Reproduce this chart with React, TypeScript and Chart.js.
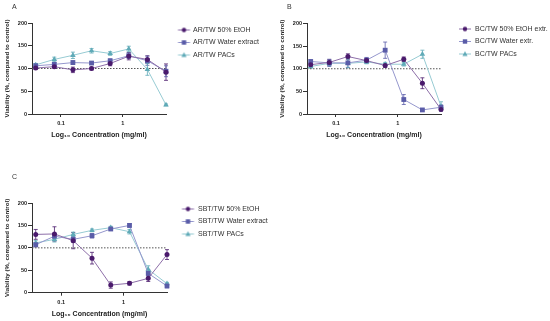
import React, { useEffect, useRef } from "react";
import { Chart, registerables } from "chart.js";
Chart.register(...registerables);

const FONT = '"Liberation Sans", Arial, Helvetica, sans-serif';

// ---------- shared axes ----------
const concentrations = [0.039, 0.078, 0.156, 0.3125, 0.625, 1.25, 2.5, 5];
const xAxisMin = 0.034;
const xAxisMax = 5;
const xTickValues = [0.1, 1];
const xTickLabels = ["0.1", "1"];
const yAxisMin = 0;
const yAxisMax = 200;
const yTickStep = 50;
const controlLevel = 100;
const xAxisTitle = "Log\u2081\u2080 Concentration (mg/ml)";
const yAxisTitle = "Viability (%, compared to control)";

// ---------- panel A ----------
const arNames = ["AR/TW 50% EtOH", "AR/TW Water extract", "AR/TW PACs"];
const arEtoh = [101, 104, 97, 100, 111, 127, 120, 92];
const arEtohErr = [3, 3, 6, 3, 5, 8, 8, 18];
const arWater = [106, 109, 113, 112, 117, 128, 117, 94];
const arWaterErr = [4, 4, 4, 3, 4, 6, 10, 12];
const arPacs = [108, 120, 129, 139, 133, 143, 98, 20];
const arPacsErr = [3, 5, 7, 5, 4, 6, 13, 2];

// ---------- panel B ----------
const bcNames = ["BC/TW 50% EtOH extr.", "BC/TW Water extr.", "BC/TW PACs"];
const bcEtoh = [109, 114, 127, 118, 107, 121, 68, 10];
const bcEtohErr = [5, 6, 6, 5, 4, 5, 12, 3];
const bcWater = [116, 113, 113, 119, 141, 32, 9, 15];
const bcWaterErr = [4, 8, 10, 6, 18, 11, 2, 5];
const bcPacs = [105, 112, 112, 115, 110, 110, 132, 17];
const bcPacsErr = [4, 5, 10, 4, 4, 4, 9, 10];

// ---------- panel C ----------
const sbtNames = ["SBT/TW 50% EtOH", "SBT/TW Water extract", "SBT/TW PACs"];
const sbtEtoh = [130, 131, 116, 77, 17, 21, 32, 85];
const sbtEtohErr = [11, 16, 18, 13, 7, 4, 7, 11];
const sbtWater = [107, 126, 119, 127, 142, 150, 43, 15];
const sbtWaterErr = [5, 5, 6, 5, 3, 4, 8, 4];
const sbtPacs = [111, 119, 130, 139, 145, 136, 52, 20];
const sbtPacsErr = [5, 6, 5, 3, 3, 5, 8, 3];

// ---------- styles ----------
const markerColors = ["#4a1a6c", "#5a5ca8", "#5faab7"];
const lineColors = ["#8d6ea8", "#9597cd", "#97cbd3"];
const pointStyles = ["circle", "rect", "triangle"];
const pointRadii = [2.5, 3.4, 3.2];
const LEGEND_FONT_SIZE = 7;
const LEGEND_PAD = 5.5;

const panels = [
  {
    letter: "A", names: arNames,
    values: [arEtoh, arWater, arPacs], errors: [arEtohErr, arWaterErr, arPacsErr],
    left: 0, top: 0, width: 275, height: 160,
    padTop: 21, padBottom: 20, chartRight: 166,
    titlePadTop: -18.2, titlePadBottom: 11.8,
    legendW: 18, legendD: 3.5,
  },
  {
    letter: "B", names: bcNames,
    values: [bcEtoh, bcWater, bcPacs], errors: [bcEtohErr, bcWaterErr, bcPacsErr],
    left: 275, top: 0, width: 275, height: 160,
    padTop: 20, padBottom: 20, chartRight: 166,
    titlePadTop: -17.2, titlePadBottom: 12.3,
    legendW: 25, legendD: 6,
  },
  {
    letter: "C", names: sbtNames,
    values: [sbtEtoh, sbtWater, sbtPacs], errors: [sbtEtohErr, sbtWaterErr, sbtPacsErr],
    left: 0, top: 160, width: 275, height: 161,
    padTop: 40, padBottom: 2.3, chartRight: 167,
    titlePadTop: -27.2, titlePadBottom: 21.8,
    legendW: 22, legendD: 4.5,
  },
];

function makeGlyph(idx: number, d: number) {
  const c = document.createElement("canvas");
  const w = 40, h = 9;
  c.width = w; c.height = h;
  const g = c.getContext("2d")!;
  const cx = w / 2 + d, cy = h / 2;
  g.strokeStyle = lineColors[idx];
  g.lineWidth = 1;
  g.beginPath(); g.moveTo(cx - 6, cy); g.lineTo(cx + 6, cy); g.stroke();
  g.fillStyle = markerColors[idx];
  g.beginPath();
  if (pointStyles[idx] === "circle") {
    g.arc(cx, cy, 2.2, 0, Math.PI * 2);
  } else if (pointStyles[idx] === "rect") {
    g.rect(cx - 2.2, cy - 2.2, 4.4, 4.4);
  } else {
    g.moveTo(cx, cy - 2.8); g.lineTo(cx + 2.6, cy + 2); g.lineTo(cx - 2.6, cy + 2); g.closePath();
  }
  g.fill();
  return c;
}

function measureMax(names: string[]) {
  const c = document.createElement("canvas");
  const g = c.getContext("2d")!;
  g.font = `${LEGEND_FONT_SIZE}px ${FONT}`;
  return Math.max(...names.map((n) => g.measureText(n).width));
}

const errorBarPlugin = {
  id: "errorBars",
  beforeDatasetsDraw(chart: any) {
    const ctx = chart.ctx;
    const yScale = chart.scales.y;
    chart.data.datasets.forEach((ds: any, di: number) => {
      if (!ds.errorValues) return;
      const meta = chart.getDatasetMeta(di);
      ctx.save();
      ctx.strokeStyle = ds.errorColor;
      ctx.lineWidth = 0.8;
      meta.data.forEach((pt: any, i: number) => {
        const v = ds.data[i].y;
        const e = ds.errorValues[i];
        const x = pt.x;
        const y1 = yScale.getPixelForValue(v + e);
        const y2 = yScale.getPixelForValue(v - e);
        ctx.beginPath();
        ctx.moveTo(x, y1); ctx.lineTo(x, y2);
        ctx.moveTo(x - 2, y1); ctx.lineTo(x + 2, y1);
        ctx.moveTo(x - 2, y2); ctx.lineTo(x + 2, y2);
        ctx.stroke();
      });
      ctx.restore();
    });
  },
};

function Panel({ cfg }: { cfg: any }) {
  const ref = useRef<HTMLCanvasElement>(null);
  useEffect(() => {
    const glyphs = [0, 1, 2].map((i) => makeGlyph(i, cfg.legendD));
    const content = LEGEND_PAD + cfg.legendW + LEGEND_FONT_SIZE / 2 + measureMax(cfg.names);
    const legendWidth = Math.ceil(content) + 2;
    const padRight = Math.max(0, cfg.width - cfg.chartRight - legendWidth);
    const seriesSets = cfg.values.map((vals: number[], i: number) => ({
      label: cfg.names[i],
      data: concentrations.map((x, j) => ({ x, y: vals[j] })),
      errorValues: cfg.errors[i],
      errorColor: markerColors[i],
      borderColor: lineColors[i],
      borderWidth: 1,
      backgroundColor: markerColors[i],
      pointBackgroundColor: markerColors[i],
      pointBorderColor: markerColors[i],
      pointBorderWidth: 0,
      pointStyle: pointStyles[i],
      pointRadius: pointRadii[i],
      tension: 0,
      clip: false,
      order: 0,
    }));
    const refSet = {
      label: "control",
      data: [{ x: xAxisMin, y: controlLevel }, { x: xAxisMax, y: controlLevel }],
      borderColor: "#555",
      borderWidth: 1,
      borderDash: [1.5, 1.5],
      pointRadius: 0,
      clip: false,
      order: 1,
    };
    const chart = new Chart(ref.current!, {
      type: "line",
      data: { datasets: [...seriesSets, refSet] },
      plugins: [errorBarPlugin],
      options: {
        animation: false,
        responsive: false,
        devicePixelRatio: 1,
        layout: {
          padding: { left: 12, top: cfg.padTop, right: padRight, bottom: cfg.padBottom },
        },
        plugins: {
          tooltip: { enabled: false },
          title: {
            display: true,
            text: cfg.letter,
            align: "start",
            color: "#333",
            font: { family: FONT, size: 7, weight: "normal" },
            padding: { top: cfg.titlePadTop, bottom: cfg.titlePadBottom },
          },
          legend: {
            display: true,
            position: "right",
            align: "start",
            fullSize: true,
            maxWidth: legendWidth,
            labels: {
              usePointStyle: true,
              pointStyleWidth: cfg.legendW,
              padding: LEGEND_PAD,
              color: "#333",
              font: { family: FONT, size: LEGEND_FONT_SIZE },
              generateLabels: () =>
                cfg.names.map((n: string, i: number) => ({
                  text: n,
                  pointStyle: glyphs[i],
                  fillStyle: markerColors[i],
                  strokeStyle: markerColors[i],
                  lineWidth: 0,
                  hidden: false,
                  datasetIndex: i,
                  fontColor: "#333",
                })),
            },
          },
        },
        scales: {
          x: {
            type: "logarithmic",
            min: xAxisMin,
            max: xAxisMax,
            bounds: "data",
            afterBuildTicks: (axis: any) => {
              axis.ticks = xTickValues.map((v) => ({ value: v }));
            },
            afterFit: (axis: any) => {
              axis.height = 26;
            },
            ticks: {
              autoSkip: false,
              maxRotation: 0,
              padding: 3,
              color: "#222",
              font: { family: FONT, size: 5.5, weight: "bold" },
              callback: (value: any) => {
                const k = xTickValues.indexOf(Number(value));
                return k >= 0 ? xTickLabels[k] : "";
              },
            },
            grid: { display: true, drawOnChartArea: false, drawTicks: true, tickLength: 3, tickColor: "#333", tickWidth: 1 },
            border: { display: true, color: "#333", width: 1 },
            title: {
              display: true,
              text: xAxisTitle,
              color: "#222",
              font: { family: FONT, size: 7, weight: "bold" },
              padding: { top: 0, bottom: 0.8 },
            },
          },
          y: {
            type: "linear",
            min: yAxisMin,
            max: yAxisMax,
            afterFit: (axis: any) => {
              axis.width = 20;
            },
            ticks: {
              stepSize: yTickStep,
              padding: 1,
              color: "#222",
              font: { family: FONT, size: 5.5, weight: "bold" },
            },
            grid: { display: true, drawOnChartArea: false, drawTicks: true, tickLength: 4, tickColor: "#333", tickWidth: 1 },
            border: { display: true, color: "#333", width: 1 },
            title: {
              display: true,
              text: yAxisTitle,
              color: "#222",
              font: { family: FONT, size: 6.2, weight: "bold" },
              padding: { top: -8.72, bottom: 0 },
            },
          },
        },
      } as any,
    } as any);
    return () => chart.destroy();
  }, []);
  return (
    <canvas
      ref={ref}
      width={cfg.width}
      height={cfg.height}
      style={{ position: "absolute", left: cfg.left, top: cfg.top, width: cfg.width, height: cfg.height }}
    />
  );
}

export default function App() {
  return (
    <div style={{ position: "fixed", left: 0, top: 0, width: 550, height: 321, background: "#fff" }}>
      {panels.map((p) => (
        <Panel key={p.letter} cfg={p} />
      ))}
    </div>
  );
}
